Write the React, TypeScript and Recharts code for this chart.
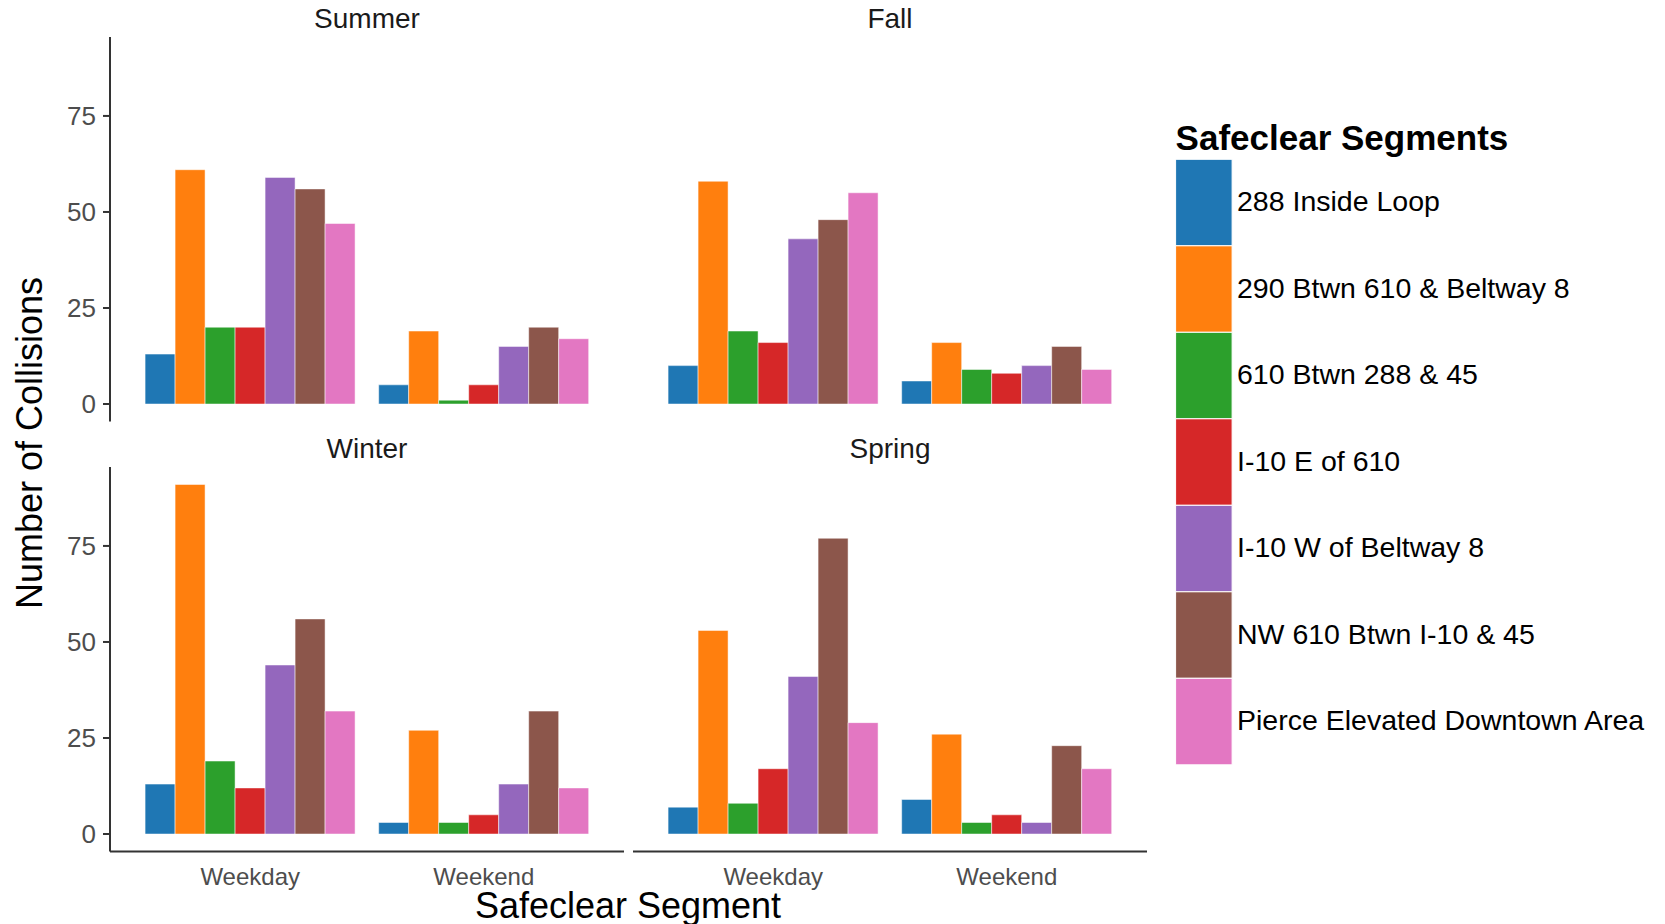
import React from 'react';
import { BarChart, Bar, XAxis, YAxis } from 'recharts';

const dayTypes = ['Weekday', 'Weekend'];

const segments = [
  '288 Inside Loop',
  '290 Btwn 610 & Beltway 8',
  '610 Btwn 288 & 45',
  'I-10 E of 610',
  'I-10 W of Beltway 8',
  'NW 610 Btwn I-10 & 45',
  'Pierce Elevated Downtown Area',
];

const segmentColors = ['#1F77B4', '#FF7F0E', '#2CA02C', '#D62728', '#9467BD', '#8C564B', '#E377C2'];

// collisions per segment, same order as segments
const summerWeekday = [13, 61, 20, 20, 59, 56, 47];
const summerWeekend = [5, 19, 1, 5, 15, 20, 17];
const fallWeekday = [10, 58, 19, 16, 43, 48, 55];
const fallWeekend = [6, 16, 9, 8, 10, 15, 9];
const winterWeekday = [13, 91, 19, 12, 44, 56, 32];
const winterWeekend = [3, 27, 3, 5, 13, 32, 12];
const springWeekday = [7, 53, 8, 17, 41, 77, 29];
const springWeekend = [9, 26, 3, 5, 3, 23, 17];

const yTicks = [0, 25, 50, 75];
const yDomain = [-4.55, 95.55];

const FONT = '"Liberation Sans", Arial, Helvetica, sans-serif';

const PLOT_W = 514;
const PLOT_H = 384.5;
const Y_AXIS_W = 110;
const X_AXIS_H = 60;
const PAD = 3;

const toRows = (weekday: number[], weekend: number[]) =>
  dayTypes.map((day, i) => {
    const vals = i === 0 ? weekday : weekend;
    const row: Record<string, any> = { day };
    segments.forEach((s, j) => {
      row[s] = vals[j];
    });
    return row;
  });

interface PanelProps {
  rows: Record<string, any>[];
  left: number;
  top: number;
  showY: boolean;
  showX: boolean;
}

const Panel: React.FC<PanelProps> = ({ rows, left, top, showY, showX }) => {
  const yW = showY ? Y_AXIS_W : 0;
  const width = yW + PLOT_W + PAD;
  const height = PLOT_H + (showX ? X_AXIS_H : 0) + PAD * 2;
  return (
    <div style={{ position: 'absolute', left: left - yW, top: top - PAD }}>
      <BarChart
        width={width}
        height={height}
        data={rows}
        margin={{ top: PAD, right: PAD, bottom: PAD, left: 0 }}
        barCategoryGap="5%"
        barGap={0}
      >
        <XAxis
          dataKey="day"
          hide={!showX}
          height={X_AXIS_H}
          padding={{ left: 23.4, right: 23.4 }}
          axisLine={{ stroke: '#333333', strokeWidth: 2 }}
          tickLine={false}
          tickSize={6}
          tickMargin={10}
          tick={{ fontSize: 24, fill: '#4D4D4D', fontFamily: FONT }}
        />
        <YAxis
          hide={!showY}
          width={yW}
          type="number"
          domain={yDomain}
          ticks={yTicks}
          allowDataOverflow
          axisLine={{ stroke: '#333333', strokeWidth: 2 }}
          tickLine={{ stroke: '#333333', strokeWidth: 2 }}
          tickSize={7}
          tickMargin={7}
          tick={{ fontSize: 26, fill: '#4D4D4D', fontFamily: FONT }}
        />
        {segments.map((s, i) => (
          <Bar
            key={s}
            dataKey={s}
            fill={segmentColors[i]}
            stroke="#ffffff"
            strokeWidth={0.5}
            isAnimationActive={false}
          />
        ))}
      </BarChart>
    </div>
  );
};

const stripTitles = ['Summer', 'Fall', 'Winter', 'Spring'];

export default function App() {
  const panels = [
    { rows: toRows(summerWeekday, summerWeekend), left: 110, top: 37, showY: true, showX: false },
    { rows: toRows(fallWeekday, fallWeekend), left: 633, top: 37, showY: false, showX: false },
    { rows: toRows(winterWeekday, winterWeekend), left: 110, top: 466.5, showY: true, showX: true },
    { rows: toRows(springWeekday, springWeekend), left: 633, top: 466.5, showY: false, showX: true },
  ];
  const stripPos = [
    [367, 27.5],
    [890, 27.5],
    [367, 458],
    [890, 458],
  ];
  const keyH = 86.5;
  const keyTop = 159.3;
  return (
    <div
      style={{
        position: 'absolute',
        left: 0,
        top: 0,
        width: 1665,
        height: 924,
        background: '#ffffff',
        overflow: 'hidden',
        fontFamily: FONT,
      }}
    >
      {panels.map((p, i) => (
        <Panel key={i} {...p} />
      ))}
      <svg
        width={1665}
        height={924}
        style={{ position: 'absolute', left: 0, top: 0, pointerEvents: 'none' }}
        fontFamily={FONT}
      >
        {stripTitles.map((t, i) => (
          <text key={t} x={stripPos[i][0]} y={stripPos[i][1]} textAnchor="middle" fontSize={28} fill="#1A1A1A">
            {t}
          </text>
        ))}
        <text x={628} y={918} textAnchor="middle" fontSize={36} fill="#000000">
          Safeclear Segment
        </text>
        <text
          x={41.5}
          y={443}
          textAnchor="middle"
          fontSize={36}
          fill="#000000"
          transform="rotate(-90 41.5 443)"
        >
          Number of Collisions
        </text>
        <text x={1175.6} y={150} fontSize={35} fontWeight="bold" fill="#000000">
          Safeclear Segments
        </text>
        {segments.map((s, i) => (
          <g key={s}>
            <rect
              x={1175.6}
              y={keyTop + i * keyH}
              width={56.5}
              height={keyH}
              fill={segmentColors[i]}
              stroke="#ffffff"
              strokeWidth={1}
            />
            <text x={1237} y={keyTop + i * keyH + keyH / 2 + 8.8} fontSize={28.5} fill="#000000">
              {s}
            </text>
          </g>
        ))}
      </svg>
    </div>
  );
}
